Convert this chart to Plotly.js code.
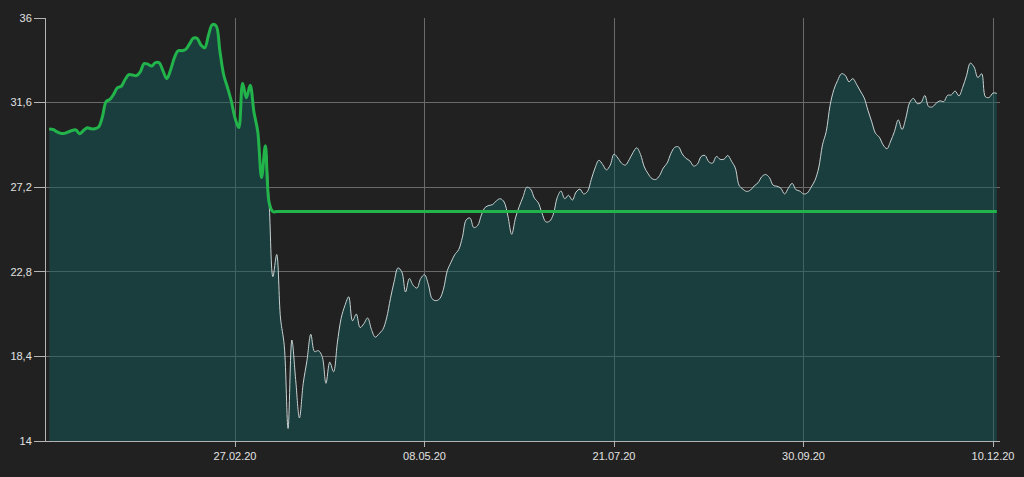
<!DOCTYPE html>
<html>
<head>
<meta charset="utf-8">
<script src="https://cdn.plot.ly/plotly-3.0.1.min.js"></script>
<style>
  html, body { margin: 0; padding: 0; background: #212121; }
  #chart { width: 1024px; height: 477px; }
</style>
</head>
<body>
<div id="chart"></div>
<script>
// Daily closing prices (trading-day index 0..250)
const prices = [
  30.23, 30.2, 30.08, 30.0, 30.0, 30.07, 30.15, 30.18, 29.98, 30.15,
  30.29, 30.24, 30.24, 30.33, 30.85, 31.65, 31.77, 32.04, 32.38, 32.45,
  32.8, 33.05, 33.03, 33.0, 33.2, 33.63, 33.6, 33.5, 33.68, 33.67,
  33.25, 32.85, 33.3, 33.93, 34.3, 34.3, 34.37, 34.65, 34.95, 34.94,
  34.6, 34.45, 35.1, 35.65, 35.6, 34.3, 33.05, 32.4, 31.7, 30.8,
  30.3, 32.6, 31.85, 32.5, 31.1, 30.1, 27.7, 29.35, 26.4, 22.55,
  23.7, 20.4, 18.95, 14.65, 19.25, 17.2, 15.2, 17.0, 18.2, 19.55,
  18.65, 18.7, 18.39, 17.0, 18.1, 17.6, 19.1, 20.38, 21.05, 21.5,
  20.25, 20.6, 19.9, 20.1, 20.4, 19.8, 19.4, 19.58, 19.8, 20.4,
  21.4, 22.3, 23.0, 22.8, 21.75, 22.45, 22.1, 21.95, 22.45, 22.65,
  22.15, 21.4, 21.3, 21.4, 21.9, 22.85, 23.3, 23.7, 23.95, 24.6,
  25.5, 25.6, 25.1, 25.2, 25.75, 26.15, 26.25, 26.3, 26.5, 26.6,
  26.43, 25.7, 24.75, 25.6, 26.2, 26.7, 27.2, 27.1, 26.63, 26.4,
  25.85, 25.4, 25.43, 25.8, 26.65, 27.0, 26.6, 26.78, 26.53, 26.95,
  27.1, 26.85, 26.98, 27.6, 28.2, 28.6, 28.38, 28.1, 28.35, 28.92,
  28.72, 28.45, 28.35, 28.63, 29.0, 29.25, 28.9, 28.25, 27.9, 27.65,
  27.6, 27.8, 28.2, 28.45, 28.95, 29.27, 29.3, 28.93, 28.7, 28.57,
  28.3, 28.4, 28.8, 28.85, 28.52, 28.45, 28.8, 28.65, 28.65, 28.85,
  28.55, 28.2, 27.3, 27.1, 26.98, 27.05, 27.27, 27.43, 27.75, 27.86,
  27.7, 27.3, 27.25, 27.15, 26.85, 27.15, 27.4, 27.07, 27.0, 26.85,
  26.9, 27.2, 27.55, 28.2, 29.4, 30.1, 31.45, 32.27, 32.75, 33.1,
  33.02, 32.68, 32.85, 32.55, 32.2, 31.85, 31.2, 30.6, 30.0, 29.8,
  29.4, 29.2, 29.6, 30.1, 30.7, 30.2, 30.8, 31.6, 31.82, 31.55,
  31.6, 31.97, 31.4, 31.38, 31.57, 31.69, 31.65, 31.98, 32.0, 32.2,
  31.95, 32.4, 33.0, 33.65, 33.45, 32.9, 33.1, 31.9, 31.87, 32.1,
  32.08
];

// Stop level (green): follows the price until it is hit, then stays flat
const stopLevel = 25.93;
const stopHitIndex = 59;

// Axis ticks
const xTickIndex = [49, 99, 149, 199, 249];
const xTickLabels = ['27.02.20', '08.05.20', '21.07.20', '30.09.20', '10.12.20'];
const yTickValues = [14, 18.4, 22.8, 27.2, 31.6, 36];
const yTickLabels = ['14', '18,4', '22,8', '27,2', '31,6', '36'];

const xIdx = prices.map((_, i) => i);
const stopLine = prices.map((v, i) => (i < stopHitIndex ? v : stopLevel));

const traces = [
  {
    x: xIdx, y: prices, type: 'scatter', mode: 'lines',
    line: { color: '#c9d2d2', width: 1, shape: 'spline', smoothing: 1 },
    fill: 'tozeroy', fillcolor: 'rgba(20,92,92,0.5)',
    hoverinfo: 'skip'
  },
  {
    x: xIdx, y: stopLine, type: 'scatter', mode: 'lines',
    line: { color: '#22b34b', width: 3, shape: 'spline', smoothing: 1 },
    hoverinfo: 'skip'
  }
];

const axisFont = { family: 'Liberation Sans, Arial, sans-serif', size: 11, color: '#e2e2e2' };

const layout = {
  width: 1024, height: 477,
  paper_bgcolor: '#212121', plot_bgcolor: '#212121',
  margin: { l: 46, r: 24, t: 18, b: 36, pad: 0 },
  showlegend: false,
  hovermode: false,
  xaxis: {
    type: 'linear',
    range: [-0.87, 250.84],
    tickmode: 'array', tickvals: xTickIndex, ticktext: xTickLabels,
    showgrid: true, gridcolor: '#6a6a6a', gridwidth: 1,
    zeroline: false,
    showline: true, linecolor: '#b4b4b4', linewidth: 1,
    ticks: 'outside', ticklen: 5, tickcolor: '#b4b4b4',
    tickfont: axisFont,
    fixedrange: true
  },
  yaxis: {
    range: [14, 36],
    tickmode: 'array', tickvals: yTickValues, ticktext: yTickLabels,
    showgrid: true, gridcolor: '#6a6a6a', gridwidth: 1,
    zeroline: false,
    showline: true, linecolor: '#b4b4b4', linewidth: 1,
    ticks: 'outside', ticklen: 11, tickcolor: '#b4b4b4',
    tickfont: axisFont,
    fixedrange: true
  }
};

Plotly.newPlot('chart', traces, layout, { displayModeBar: false, staticPlot: true });
</script>
</body>
</html>
